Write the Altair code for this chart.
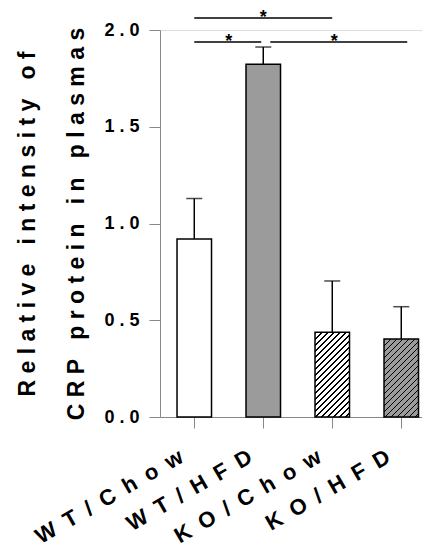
import altair as alt
import pandas as pd

# ---- data ----
groups = ["WT/Chow", "WT/HFD", "KO/Chow", "KO/HFD"]
means = [0.92, 1.823, 0.438, 0.403]
errors = [0.209, 0.089, 0.265, 0.167]

y_ticks = [0.0, 0.5, 1.0, 1.5, 2.0]
y_title = ["Relative intensity of", "CRP protein in plasmas"]

# significance brackets: from group, to group, height; star placed above
sig_from = ["WT/Chow", "WT/Chow", "WT/HFD"]
sig_to = ["KO/Chow", "WT/HFD", "KO/HFD"]
sig_y = [2.062, 1.938, 1.938]
sig_star_group = ["WT/HFD", "WT/Chow", "KO/Chow"]
sig_label = ["*", "*", "*"]

# ---- layout / style ----
W, H = 262, 387
YMAX = 2.0
FONT = "Liberation Sans"
GRAY = "#9b9b9b"
P_INNER, P_OUTER, ALIGN = 0.5, 0.1486, 0.83
step = W / (len(groups) - P_INNER + 2 * P_OUTER)
bandw = step * (1 - P_INNER)


def spaced(s, sep="\u00a0"):
    return sep.join(list(s))


def hatch(base, value, period=6.0, dark=0.3):
    w = bandw
    h = value * H / YMAX
    n = (w + h) / period
    k = (w + h) / (w * w + h * h)
    gx, gy = w * k, h * k
    stops = []
    i = 0
    while i / n < 1:
        t0 = i / n
        t1 = min((i + dark) / n, 1.0)
        t2 = min((i + 1) / n, 1.0)
        stops += [alt.GradientStop(color="black", offset=t0),
                  alt.GradientStop(color="black", offset=t1),
                  alt.GradientStop(color=base, offset=t1),
                  alt.GradientStop(color=base, offset=t2)]
        i += 1
    return alt.LinearGradient(gradient="linear", stops=stops,
                              x1=0, y1=0, x2=gx, y2=gy)


df = pd.DataFrame({"group": groups, "mean": means, "err": errors})
df["upper"] = df["mean"] + df["err"]

xscale = alt.Scale(domain=groups, paddingInner=P_INNER,
                   paddingOuter=P_OUTER, align=ALIGN)
xaxis = alt.Axis(title=None, labelAngle=-30, labelAlign="right",
                 labelBaseline="top", labelFontSize=22, labelPadding=18,
                 labelOffset=-18,
                 labelFont=FONT, labelFontWeight="bold", labelColor="black",
                 labelExpr="join(split(datum.label, ''), '\u2002')",
                 tickSize=11)
yscale = alt.Scale(domain=[0, YMAX], nice=False, zero=True)
yaxis = alt.Axis(values=y_ticks, format=".1f",
                 labelExpr="join(split(datum.label, ''), '\u00a0')",
                 labelFont=FONT, labelFontWeight="bold", labelColor="black",
                 labelFontSize=18, labelPadding=10, tickSize=11,
                 title=[spaced(t) for t in y_title], titleFontSize=23,
                 titleFont=FONT, titleFontWeight="bold", titleColor="black",
                 titleLineHeight=49, titlePadding=15, grid=False)


def X(field="group"):
    return alt.X(f"{field}:N", scale=xscale, axis=xaxis, sort=groups)


def Y(field):
    return alt.Y(f"{field}:Q", scale=yscale, axis=yaxis)


fills = ["white", GRAY, hatch("white", means[2]), hatch(GRAY, means[3])]
layers = []
for g, f in zip(groups, fills):
    layers.append(
        alt.Chart(df).transform_filter(alt.datum.group == g)
        .mark_bar(fill=f, stroke="black", strokeWidth=1.5)
        .encode(x=X(), y=Y("mean"))
    )

layers.append(
    alt.Chart(df).mark_rule(color="black", strokeWidth=1.5)
    .encode(x=X(), y=Y("mean"), y2="upper:Q")
)
layers.append(
    alt.Chart(df).mark_tick(color="black", thickness=1.5, size=16)
    .encode(x=X(), y=Y("upper"))
)

sig_df = pd.DataFrame({"a": sig_from, "b": sig_to, "y": sig_y,
                       "s": sig_star_group, "lab": sig_label})
line_offsets = [(0, 0), (0, -2), (7, 6)]
star_offsets = [0, step / 2, 2]
for i, ((o1, o2), so) in enumerate(zip(line_offsets, star_offsets)):
    row = sig_df.iloc[[i]]
    layers.append(
        alt.Chart(row).mark_rule(color="black", strokeWidth=1.5,
                                 xOffset=o1, x2Offset=o2)
        .encode(x=X("a"), x2="b:N", y=Y("y"))
    )
    layers.append(
        alt.Chart(row).mark_text(fontSize=18, fontWeight="bold", font=FONT,
                                 color="black", baseline="alphabetic",
                                 dy=5, dx=so)
        .encode(x=X("s"), y=Y("y"), text="lab:N")
    )

chart = (
    alt.layer(*layers)
    .properties(width=W, height=H,
                autosize=alt.AutoSizeParams(type="none"),
                padding={"left": 152, "top": 22, "right": 0, "bottom": 133})
    .configure_view(stroke=None)
    .configure_axis(domainColor="black", domainWidth=1.8, tickColor="black",
                    tickWidth=1.5)
    .configure(background="white")
)

chart.save("out.html", embed_options={"renderer": "svg", "actions": False})
